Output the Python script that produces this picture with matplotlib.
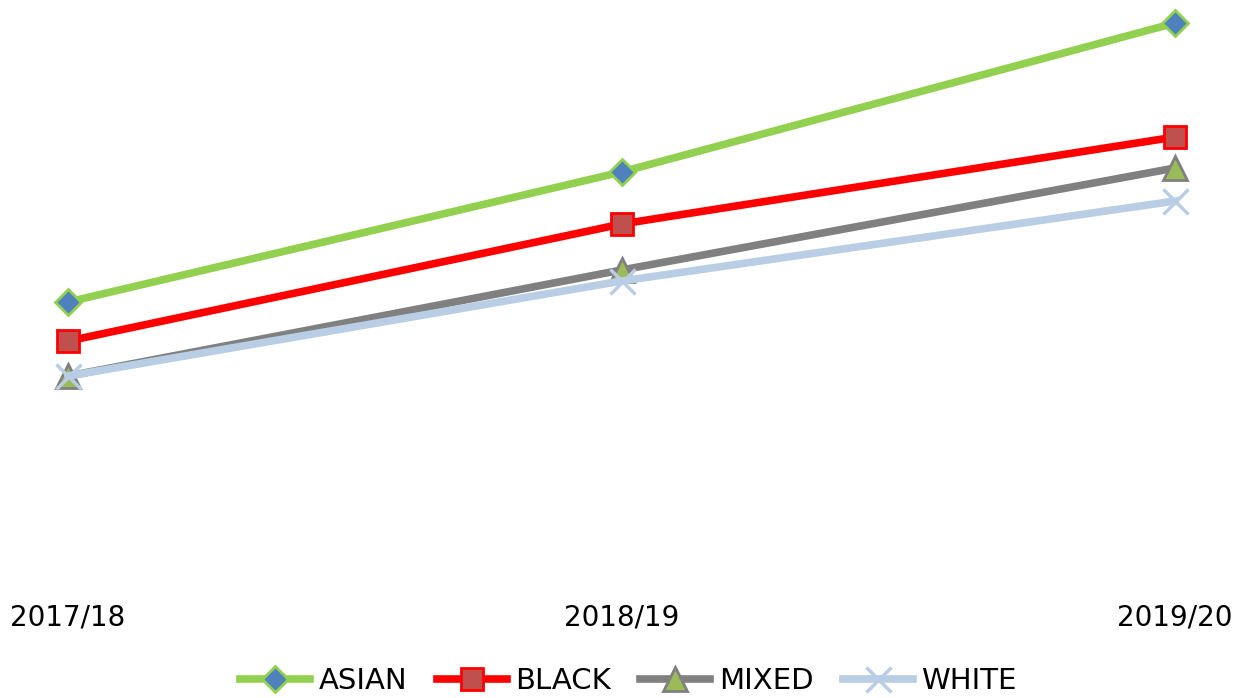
import matplotlib.pyplot as plt
import numpy as np

years = ["2017/18", "2018/19", "2019/20"]
asian = [27.8, 40.8, 55.7]
black = [23.9, 35.6, 44.3]
mixed = [20.4, 31.0, 41.2]
white = [20.4, 29.9, 37.9]

plt.rcParams['font.family'] = ['DejaVu Sans']

fig = plt.figure(figsize=(12.37, 6.98), dpi=100)
ax = fig.add_axes([0, 0.169, 1, 0.831])
x = np.arange(len(years))

ax.plot(x, asian, color='#92D050', lw=5.5, marker='D', ms=13, mfc='#4F81BD',
        mec='#92D050', mew=2, label='ASIAN')
ax.plot(x, black, color='#FF0000', lw=5.5, marker='s', ms=16, mfc='#C0504D',
        mec='#FF0000', mew=2, label='BLACK')
ax.plot(x, mixed, color='#808080', lw=5.5, marker='^', ms=17, mfc='#9BBB59',
        mec='#808080', mew=2, label='MIXED')
ax.plot(x, white, color='#B9CDE5', lw=5.5, marker='x', ms=18, mfc='#B9CDE5',
        mec='#B9CDE5', mew=2.5, label='WHITE')

ax.set_xlim(-0.123, 2.112)
ax.set_ylim(0, 58)
ax.set_yticks([])
ax.set_xticks([])
for s in ax.spines.values():
    s.set_visible(False)

for xi, lab in zip(x, years):
    ax.text(xi, -3.7, lab, ha='center', va='center', fontsize=20,
            transform=ax.transData, clip_on=False)

fig.legend(loc='center', bbox_to_anchor=(0.508, 0.024), ncol=4, frameon=False,
           fontsize=21, handlelength=2.4, columnspacing=1.0, handletextpad=0.3)

fig.savefig("out.png", dpi=100)
